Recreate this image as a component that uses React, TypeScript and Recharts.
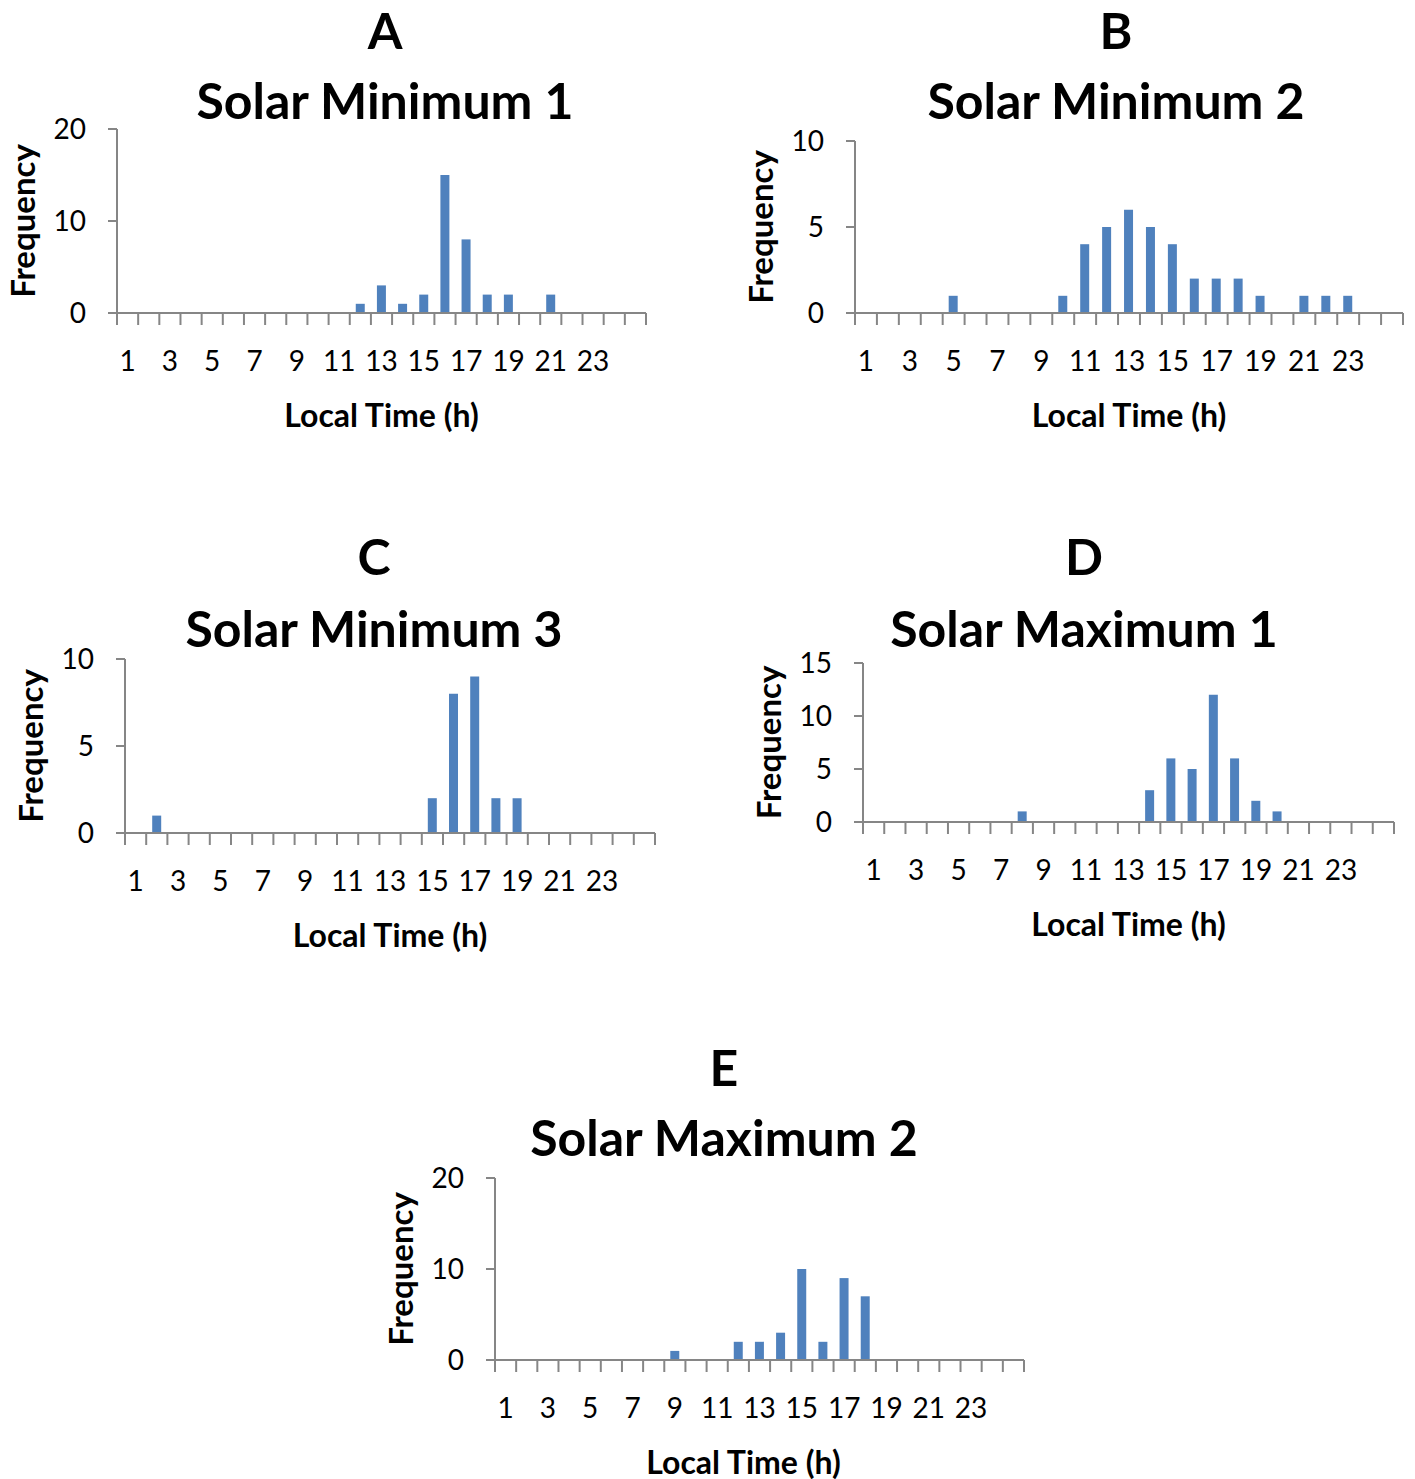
import React from "react";
import { BarChart, Bar, XAxis, YAxis } from "recharts";

// hour-of-day bins (25 bins, only odd hours up to 23 are labelled)
const hours = [1, 2, 3, 4, 5, 6, 7, 8, 9, 10, 11, 12, 13, 14, 15, 16, 17, 18, 19, 20, 21, 22, 23, 24, 25];
const hourLabels = [1, 3, 5, 7, 9, 11, 13, 15, 17, 19, 21, 23];

// event counts per local-time bin
const solarMin1 = [0, 0, 0, 0, 0, 0, 0, 0, 0, 0, 0, 1, 3, 1, 2, 15, 8, 2, 2, 0, 2, 0, 0, 0, 0];
const solarMin2 = [0, 0, 0, 0, 1, 0, 0, 0, 0, 1, 4, 5, 6, 5, 4, 2, 2, 2, 1, 0, 1, 1, 1, 0, 0];
const solarMin3 = [0, 1, 0, 0, 0, 0, 0, 0, 0, 0, 0, 0, 0, 0, 2, 8, 9, 2, 2, 0, 0, 0, 0, 0, 0];
const solarMax1 = [0, 0, 0, 0, 0, 0, 0, 1, 0, 0, 0, 0, 0, 3, 6, 5, 12, 6, 2, 1, 0, 0, 0, 0, 0];
const solarMax2 = [0, 0, 0, 0, 0, 0, 0, 0, 1, 0, 0, 2, 2, 3, 10, 2, 9, 7, 0, 0, 0, 0, 0, 0, 0];

const ticks20 = [0, 10, 20];
const ticks10 = [0, 5, 10];
const ticks15 = [0, 5, 10, 15];

const BAR_BLUE = "#4F81BD";
const AXIS_GREY = "#868686";
const FONT = "Lato, 'Open Sans', sans-serif";

interface Box {
  left: number;
  top: number;
  right: number;
  bottom: number;
}

interface PanelProps {
  letter: string;
  title: string;
  values: number[];
  yTicks: number[];
  plot: Box;
  centerX: number;
  letterY: number;
  titleY: number;
  xTitleShift?: number;
}

// tick marks sit on the bin edges, labels in the bin centres
function HourTick({ x, y, payload, band }: any) {
  const edge = x - band / 2;
  const isLast = payload.value === hours[hours.length - 1];
  return (
    <g>
      <line x1={edge} y1={y} x2={edge} y2={y + 12} stroke={AXIS_GREY} strokeWidth={2} />
      {isLast && (
        <line x1={x + band / 2} y1={y} x2={x + band / 2} y2={y + 12} stroke={AXIS_GREY} strokeWidth={2} />
      )}
      {hourLabels.includes(payload.value) && (
        <text
          x={x}
          y={y + 47}
          textAnchor="middle"
          dominantBaseline="central"
          fontSize={28}
          fontFamily={FONT}
          fill="#000"
        >
          {payload.value}
        </text>
      )}
    </g>
  );
}

function Panel({ letter, title, values, yTicks, plot, centerX, letterY, titleY, xTitleShift = 0 }: PanelProps) {
  const plotW = plot.right - plot.left;
  const plotH = plot.bottom - plot.top;
  const band = plotW / hours.length;
  const data = hours.map((h, i) => ({ hour: h, count: values[i] }));
  const headStyle: React.CSSProperties = {
    position: "absolute",
    transform: "translate(-50%, -50%)",
    fontFamily: FONT,
    fontWeight: 700,
    fontSize: 50,
    lineHeight: 1,
    whiteSpace: "nowrap",
    color: "#000",
  };

  return (
    <>
      <div style={{ ...headStyle, left: centerX, top: letterY }}>{letter}</div>
      <div style={{ ...headStyle, left: centerX, top: titleY }}>{title}</div>
      <div style={{ position: "absolute", left: plot.left - 120, top: plot.top - 20 }}>
        <BarChart
          width={plotW + 140}
          height={plotH + 160}
          data={data}
          margin={{ top: 20, right: 20, left: 20, bottom: 80 }}
        >
          <XAxis
            dataKey="hour"
            height={60}
            interval={0}
            tickSize={0}
            tickMargin={0}
            tickLine={false}
            axisLine={{ stroke: AXIS_GREY, strokeWidth: 2 }}
            tick={(p: any) => <HourTick {...p} band={band} />}
            label={{
              value: "Local Time (h)",
              position: "bottom",
              offset: 31,
              dx: xTitleShift,
              fill: "#000",
              fontSize: 32,
              fontWeight: 700,
              fontFamily: FONT,
            }}
          />
          <YAxis
            width={100}
            domain={[0, yTicks[yTicks.length - 1]]}
            ticks={yTicks}
            interval={0}
            tickSize={9}
            tickMargin={22}
            axisLine={{ stroke: AXIS_GREY, strokeWidth: 2 }}
            tickLine={{ stroke: AXIS_GREY, strokeWidth: 2 }}
            tick={{ fill: "#000", fontSize: 28, fontFamily: FONT }}
            label={{
              value: "Frequency",
              angle: -90,
              position: "insideLeft",
              offset: 6,
              fill: "#000",
              fontSize: 33,
              fontWeight: 700,
              fontFamily: FONT,
              style: { textAnchor: "middle" },
            }}
          />
          <Bar dataKey="count" fill={BAR_BLUE} barSize={9} isAnimationActive={false} />
        </BarChart>
      </div>
    </>
  );
}

export default function App() {
  return (
    <div style={{ position: "absolute", left: 0, top: 0, width: 1415, height: 1479, background: "#fff" }}>
      <Panel
        letter="A"
        title="Solar Minimum 1"
        values={solarMin1}
        yTicks={ticks20}
        plot={{ left: 117, top: 129, right: 646, bottom: 313 }}
        centerX={385}
        letterY={30}
        titleY={100}
      />
      <Panel
        letter="B"
        title="Solar Minimum 2"
        values={solarMin2}
        yTicks={ticks10}
        plot={{ left: 855, top: 141, right: 1403, bottom: 313 }}
        centerX={1116}
        letterY={30}
        titleY={100}
      />
      <Panel
        letter="C"
        title="Solar Minimum 3"
        values={solarMin3}
        yTicks={ticks10}
        plot={{ left: 125, top: 659, right: 655, bottom: 833 }}
        centerX={374}
        letterY={556}
        titleY={628}
      />
      <Panel
        letter="D"
        title="Solar Maximum 1"
        values={solarMax1}
        yTicks={ticks15}
        plot={{ left: 863, top: 663, right: 1394, bottom: 822 }}
        centerX={1084}
        letterY={556}
        titleY={628}
      />
      <Panel
        letter="E"
        title="Solar Maximum 2"
        values={solarMax2}
        yTicks={ticks20}
        plot={{ left: 495, top: 1178, right: 1024, bottom: 1360 }}
        centerX={724}
        letterY={1067}
        titleY={1137}
        xTitleShift={-16}
      />
    </div>
  );
}
